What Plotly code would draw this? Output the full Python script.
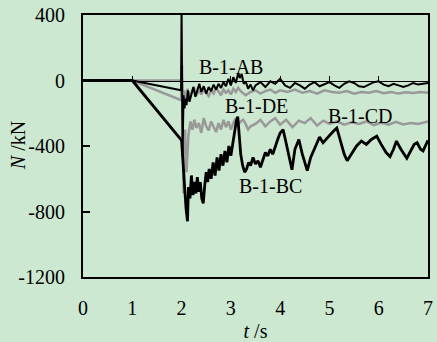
import plotly.graph_objects as go

# Axial force histories of the four beams (time in s, force in kN)
t_ab = [0, 1.0, 1.99, 2.0, 2.02, 2.04, 2.06, 2.08, 2.1, 2.13, 2.16, 2.2, 2.24, 2.28, 2.32, 2.36,
        2.4, 2.45, 2.5, 2.55, 2.6, 2.65, 2.7, 2.75, 2.8, 2.85, 2.9, 2.95, 3.0, 3.05, 3.1, 3.15,
        3.18, 3.22, 3.26, 3.3, 3.35, 3.4, 3.45, 3.5, 3.6, 3.7, 3.8, 3.9, 4.0, 4.1, 4.2, 4.3,
        4.4, 4.5, 4.6, 4.7, 4.8, 4.9, 5.0, 5.1, 5.2, 5.3, 5.4, 5.5, 5.6, 5.7, 5.8, 5.9, 6.0,
        6.1, 6.2, 6.3, 6.4, 6.5, 6.6, 6.7, 6.8, 6.9, 7.0]
n_ab = [0, 0, -60, 450, -460, -90, -170, -110, -150, -60, -130, -80, -40, -100, -55, -20,
        -70, -35, -80, -40, -65, -25, -55, -20, -45, -10, -35, 10, -30, 20, -15, 45,
        15, 40, -20, -5, -50, -25, -60, -30, -10, -40, -5, -20, 10, -30, -45, -15,
        -30, -50, -25, -10, -35, -20, -10, -30, -45, -20, -5, -15, -35, -40, -25, -10, -5,
        -25, -35, -20, -30, -40, -30, -15, -25, -20, -15]

t_de = [0, 1.0, 1.99, 2.0, 2.02, 2.05, 2.08, 2.12, 2.16, 2.2, 2.25, 2.3, 2.35, 2.4, 2.45, 2.5,
        2.55, 2.6, 2.65, 2.7, 2.75, 2.8, 2.85, 2.9, 2.95, 3.0, 3.05, 3.1, 3.15, 3.2, 3.3, 3.4,
        3.5, 3.6, 3.7, 3.8, 3.9, 4.0, 4.15, 4.3, 4.45, 4.6, 4.75, 4.9, 5.05, 5.2, 5.35, 5.5,
        5.65, 5.8, 5.95, 6.1, 6.25, 6.4, 6.55, 6.7, 6.85, 7.0]
n_de = [0, 0, -120, 95, -200, -60, -130, -50, -100, -70, -40, -90, -60, -85, -50, -75,
        -95, -60, -80, -45, -70, -90, -55, -75, -60, -85, -50, -70, -45, -65, -90, -70,
        -60, -80, -65, -55, -75, -60, -70, -55, -75, -65, -80, -60, -70, -75, -65, -80,
        -70, -75, -65, -78, -70, -80, -72, -76, -70, -75]

t_cd = [0, 2.0, 2.01, 2.04, 2.07, 2.1, 2.14, 2.18, 2.22, 2.26, 2.3, 2.35, 2.4, 2.45, 2.5,
        2.55, 2.6, 2.65, 2.7, 2.75, 2.8, 2.85, 2.9, 2.95, 3.0, 3.05, 3.1, 3.15, 3.2, 3.25,
        3.3, 3.35, 3.4, 3.5, 3.6, 3.7, 3.8, 3.9, 4.0, 4.12, 4.25, 4.38, 4.5, 4.62, 4.75,
        4.88, 5.0, 5.15, 5.3, 5.45, 5.6, 5.75, 5.9, 6.05, 6.2, 6.35, 6.5, 6.65, 6.8, 7.0]
n_cd = [0, 0, 95, -690, -300, -560, -330, -250, -300, -240, -290, -260, -320, -230, -280,
        -305, -250, -285, -315, -260, -300, -240, -285, -250, -300, -260, -230, -270, -250, -240,
        -265, -300, -280, -265, -240, -280, -250, -230, -270, -240, -285, -245, -260, -230, -275,
        -245, -265, -250, -270, -255, -265, -250, -272, -258, -270, -252, -268, -260, -265, -250]

t_bc = [0, 1.0, 2.0, 2.03, 2.06, 2.09, 2.12, 2.14, 2.17, 2.2, 2.23, 2.26, 2.29, 2.32, 2.35,
        2.38, 2.41, 2.44, 2.47, 2.5, 2.53, 2.56, 2.6, 2.64, 2.68, 2.72, 2.76, 2.8, 2.84, 2.88,
        2.92, 2.96, 3.0, 3.04, 3.08, 3.11, 3.14, 3.17, 3.2, 3.24, 3.28, 3.32, 3.36, 3.4, 3.45,
        3.5, 3.55, 3.6, 3.65, 3.7, 3.75, 3.8, 3.85, 3.9, 3.95, 4.0, 4.06, 4.12, 4.18, 4.24,
        4.3, 4.38, 4.45, 4.55, 4.62, 4.7, 4.8, 4.87, 4.93, 5.0, 5.08, 5.15, 5.22, 5.3, 5.36,
        5.45, 5.55, 5.65, 5.75, 5.85, 5.96, 6.05, 6.15, 6.23, 6.3, 6.36, 6.45, 6.57, 6.65,
        6.72, 6.78, 6.85, 6.9, 6.95, 7.0]
n_bc = [0, 0, -365, -500, -700, -780, -860, -650, -720, -580, -700, -620, -690, -590, -680,
        -620, -720, -750, -640, -560, -620, -540, -600, -500, -580, -470, -550, -450, -520, -430,
        -500, -400, -460, -380, -330, -250, -220, -330, -450, -520, -560, -540, -500, -520, -470,
        -510, -490, -530, -480, -440, -460, -420, -450, -400, -360, -320, -300, -380, -470, -545,
        -420, -360, -450, -550, -470, -410, -345, -380, -360, -330, -310, -290, -360, -450, -490,
        -450, -400, -370, -390, -360, -340, -390, -440, -465, -420, -370, -420, -475, -430,
        -390, -380, -420, -430, -400, -365]

# Curve labels: text, anchor time, anchor force
label_text = ["B-1-AB", "B-1-DE", "B-1-CD", "B-1-BC"]
label_t = [3.0, 3.52, 5.62, 3.81]
label_n = [85, -156, -217, -644]

x_ticks = [0, 1, 2, 3, 4, 5, 6, 7]
y_ticks = [-1200, -800, -400, 0, 400]

BG = "rgb(204,232,208)"
GREY = "#999999"
FONT = "Liberation Serif"
TXT = dict(family=FONT, size=20, color="black")

fig = go.Figure()
fig.add_trace(go.Scatter(x=t_cd, y=n_cd, mode="lines", line=dict(color=GREY, width=2.5)))
fig.add_trace(go.Scatter(x=t_de, y=n_de, mode="lines", line=dict(color=GREY, width=2.5)))
fig.add_trace(go.Scatter(x=t_bc, y=n_bc, mode="lines", line=dict(color="black", width=2.8)))
fig.add_trace(go.Scatter(x=t_ab, y=n_ab, mode="lines", line=dict(color="black", width=2)))

for txt, tx, ny in zip(label_text, label_t, label_n):
    fig.add_annotation(x=tx, y=ny, text=txt, showarrow=False, font=TXT)

# Vertical axis title, placed in paper space left of the tick labels
fig.add_annotation(xref="paper", yref="paper", x=-0.188, y=0.5, text="<i>N</i> /kN",
                   textangle=-90, showarrow=False, xanchor="center", yanchor="middle", font=TXT)

# Zero line acting as a secondary time axis with upward ticks
fig.add_trace(go.Scatter(x=[0, 7], y=[None, None], xaxis="x2", showlegend=False))

fig.update_layout(
    width=437, height=342,
    margin=dict(l=83, r=9, t=15, b=65),
    paper_bgcolor=BG, plot_bgcolor=BG,
    showlegend=False,
    font=TXT,
    xaxis=dict(range=[0, 7], tickvals=x_ticks, ticks="", showgrid=False, zeroline=False,
               showline=True, linecolor="black", linewidth=2, mirror=True,
               automargin=False, tickfont=TXT, ticklabelstandoff=12,
               title=dict(text="<i>t</i> /s", standoff=8, font=TXT)),
    xaxis2=dict(range=[0, 7], overlaying="x", anchor="free", position=0.75, side="bottom",
                showline=True, linecolor="black", linewidth=1, ticks="inside", ticklen=5,
                tickcolor="black", tickwidth=1, tickvals=[1, 2, 3, 4, 5, 6],
                automargin=False, showticklabels=False, showgrid=False, zeroline=False),
    yaxis=dict(range=[-1200, 400], tickvals=y_ticks, ticktext=[str(v) for v in y_ticks],
               ticks="inside", ticklen=7, tickcolor="black", tickwidth=1.5,
               showgrid=False, zeroline=False, showline=True, linecolor="black",
               linewidth=2, mirror=True, automargin=False, tickfont=TXT, ticklabelstandoff=12),
)

fig.write_html("out.html")
